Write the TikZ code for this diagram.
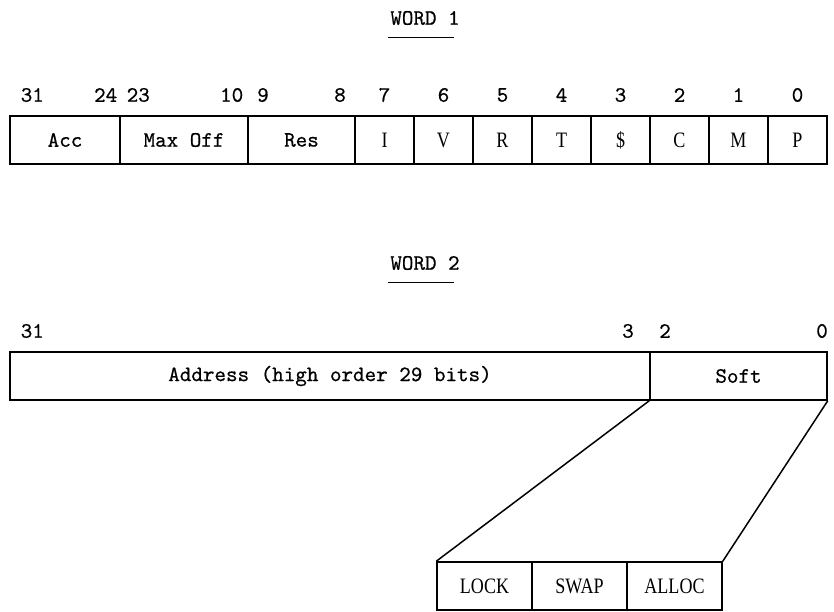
\documentclass[tikz,border=0pt]{standalone}
\usepackage{fontspec}
\newfontfamily\cellfont[FakeStretch=0.82]{Liberation Serif}
\newfontfamily\monofont{lmmono10-regular}[Extension=.otf, FakeBold=0.6]
\begin{document}
\begin{tikzpicture}[x=1pt,y=-1pt,line width=1.5pt,
	field/.style={draw, minimum height=48pt, inner sep=0pt, font=\fontsize{22}{24}\selectfont\monofont},
	flag/.style={draw, minimum height=48pt, minimum width=59pt, inner sep=0pt, font=\fontsize{22}{24}\selectfont\cellfont},
	bitno/.style={inner sep=0pt, font=\fontsize{22}{24}\selectfont\monofont}]
		\useasboundingbox (0,0) rectangle (834,611);

		% word 1
		\draw (425,18) node[bitno] (word1) {WORD 1};
		\draw ([xshift=-2pt,yshift=-12pt]word1.south west) -- ([xshift=-6pt,yshift=-12pt]word1.south east);

		\draw (20,95) node[bitno, anchor=west] (b31) {31};
		\draw (118,95) node[bitno, anchor=east] (b24) {24};
		\draw (126,95) node[bitno, anchor=west] (b23) {23};
		\draw (244,95) node[bitno, anchor=east] (b10) {10};
		\draw (263,95) node[bitno] (b9) {9};
		\draw (340,95) node[bitno] (b8) {8};
		\draw (384.5,95) node[bitno] (b7) {7};
		\draw (443.5,95) node[bitno] (b6) {6};
		\draw (502.5,95) node[bitno] (b5) {5};
		\draw (561.5,95) node[bitno] (b4) {4};
		\draw (620.5,95) node[bitno] (b3) {3};
		\draw (679.5,95) node[bitno] (b2) {2};
		\draw (738.5,95) node[bitno] (b1) {1};
		\draw (797.5,95) node[bitno] (b0) {0};

		\draw (65,140) node[field, minimum width=110pt] (acc) {Acc};
		\draw (184,140) node[field, minimum width=128pt] (maxoff) {Max Off};
		\draw (301.5,140) node[field, minimum width=107pt] (res) {Res};
		\draw (384.5,140) node[flag] (fI) {I};
		\draw (443.5,140) node[flag] (fV) {V};
		\draw (502.5,140) node[flag] (fR) {R};
		\draw (561.5,140) node[flag] (fT) {T};
		\draw (620.5,140) node[flag] (fD) {\$};
		\draw (679.5,140) node[flag] (fC) {C};
		\draw (738.5,140) node[flag] (fM) {M};
		\draw (797.5,140) node[flag] (fP) {P};

		% word 2
		\draw (425,263) node[bitno] (word2) {WORD 2};
		\draw ([xshift=-2pt,yshift=-12pt]word2.south west) -- ([xshift=-6pt,yshift=-12pt]word2.south east);

		\draw (20,331) node[bitno, anchor=west] (c31) {31};
		\draw (628,331) node[bitno] (c3) {3};
		\draw (665,331) node[bitno] (c2) {2};
		\draw (822,331) node[bitno] (c0) {0};

		\draw (330,376) node[field, minimum width=640pt] (addr) {Address (high order 29 bits)};
		\draw (738.5,376) node[field, minimum width=177pt] (soft) {Soft};

		\draw (484.5,586) node[flag, minimum width=95pt] (lock) {LOCK};
		\draw (579.5,586) node[flag, minimum width=95pt] (swap) {SWAP};
		\draw (674.5,586) node[flag, minimum width=95pt] (alloc) {ALLOC};

		\draw (soft.south west) -- (lock.north west);
		\draw (soft.south east) -- (alloc.north east);
	\end{tikzpicture}
\end{document}
